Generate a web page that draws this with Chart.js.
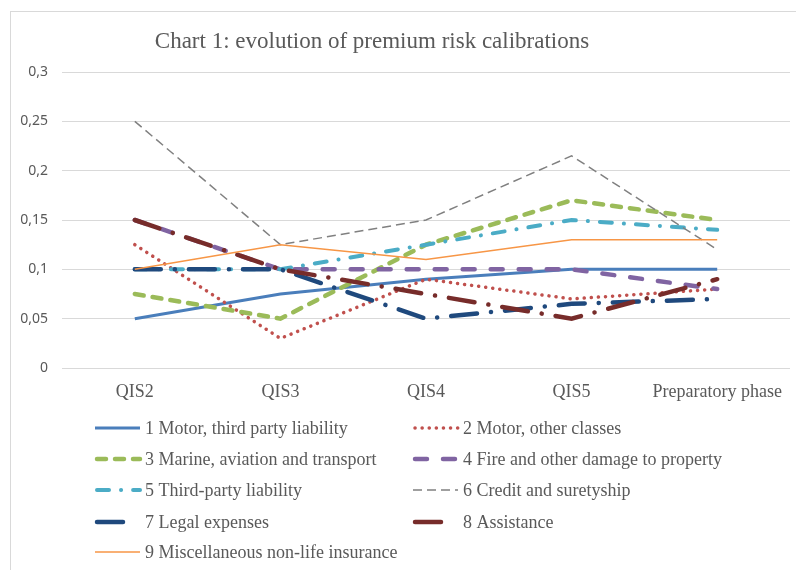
<!DOCTYPE html>
<html>
<head>
<meta charset="utf-8">
<script src="https://cdn.jsdelivr.net/npm/chart.js@4"></script>
<style>
  html, body { margin: 0; padding: 0; background: #fff; }
  #wrap { width: 796px; height: 570px; position: relative; }
</style>
</head>
<body>
<div id="wrap"><canvas id="chart" width="796" height="570"></canvas></div>
<script>
// Chart data
const phases = ['QIS2', 'QIS3', 'QIS4', 'QIS5', 'Preparatory phase'];
const seriesNames = [
    '1 Motor, third party liability',
    '2 Motor, other classes',
    '3 Marine, aviation and transport',
    '4 Fire and other damage to property',
    '5 Third-party liability',
    '6 Credit and suretyship',
    '7 Legal expenses',
    '8 Assistance',
    '9 Miscellaneous non-life insurance'
];
const motorTpl   = [0.05, 0.075, 0.09, 0.10, 0.10];
const motorOther = [0.125, 0.03, 0.09, 0.07, 0.08];
const marine     = [0.075, 0.05, 0.125, 0.17, 0.15];
const fire       = [0.15, 0.10, 0.10, 0.10, 0.08];
const thirdParty = [0.10, 0.10, 0.125, 0.15, 0.14];
const credit     = [0.25, 0.125, 0.15, 0.215, 0.12];
const legal      = [0.10, 0.10, 0.05, 0.065, 0.07];
const assistance = [0.15, 0.10, 0.075, 0.05, 0.09];
const misc       = [0.10, 0.125, 0.11, 0.13, 0.13];
const yTicks = [0, 0.05, 0.1, 0.15, 0.2, 0.25, 0.3];

const allValues = [motorTpl, motorOther, marine, fire, thirdParty, credit, legal, assistance, misc];

// line look per series (Excel style)
const styles = [
    { color: '#4A7EBB', width: 3,   dash: [],              cap: 'butt' },
    { color: '#C0504D', width: 3.5, dash: [0.1, 7],        cap: 'round' },
    { color: '#9BBB59', width: 4.5, dash: [9, 9],          cap: 'round' },
    { color: '#8064A2', width: 4.5, dash: [12, 16],        cap: 'round' },
    { color: '#4BACC6', width: 4,   dash: [12, 12, 0.1, 12], cap: 'round' },
    { color: '#808080', width: 1.5, dash: [9, 5],          cap: 'butt' },
    { color: '#1F497D', width: 4.5, dash: [26, 14, 0.1, 14], cap: 'round' },
    { color: '#772C2A', width: 4.5, dash: [26, 14, 0.1, 14], cap: 'round' },
    { color: '#F79646', width: 1.5, dash: [],              cap: 'butt' }
];

const datasets = allValues.map((vals, i) => ({
    label: seriesNames[i],
    data: vals,
    borderColor: styles[i].color,
    backgroundColor: styles[i].color,
    borderWidth: styles[i].width,
    borderDash: styles[i].dash,
    borderCapStyle: styles[i].cap,
    pointRadius: 0,
    tension: 0,
    fill: false,
    order: allValues.length - i
}));

// draws the frame, title and the two-column legend
const decorations = {
    id: 'decorations',
    beforeDraw(chart) {
        const c = chart.ctx;
        c.save();
        c.strokeStyle = '#D9D9D9';
        c.lineWidth = 1;
        c.strokeRect(10.5, 11.5, 800, 600);
        c.restore();
    },
    afterDraw(chart) {
        const c = chart.ctx;
        c.save();
        c.fillStyle = '#595959';
        c.font = '23px "Liberation Serif"';
        c.textAlign = 'center';
        c.textBaseline = 'middle';
        c.fillText('Chart 1: evolution of premium risk calibrations', 372, 42);

        const colX = [95, 413];
        const rowY = [428, 459, 490, 522, 552];
        c.font = '18px "Liberation Serif"';
        c.textAlign = 'left';
        seriesNames.forEach((name, i) => {
            const x = colX[i % 2];
            const y = rowY[Math.floor(i / 2)];
            const st = styles[i];
            // long dash-dot samples only show their first dash
            const len = (i === 6 || i === 7) ? 33 : 45;
            c.beginPath();
            c.strokeStyle = st.color;
            c.lineWidth = st.width;
            c.lineCap = st.cap;
            c.setLineDash(st.dash);
            c.moveTo(x + (st.cap === 'round' ? 2 : 0), y);
            c.lineTo(x + len, y);
            c.stroke();
            c.setLineDash([]);
            c.fillStyle = '#595959';
            c.fillText(name, x + 50, y + 1);
        });
        c.restore();
    }
};

let ctx = document.getElementById('chart').getContext('2d');
let myChart = new Chart(ctx, {
    type: 'line',
    data: { labels: phases, datasets: datasets },
    options: {
        responsive: false,
        animation: false,
        layout: { padding: { top: 72, right: 6, bottom: 162, left: 0 } },
        plugins: {
            legend: { display: false },
            title: { display: false },
            tooltip: { enabled: false }
        },
        scales: {
            x: {
                offset: true,
                grid: { display: false },
                border: { display: false },
                ticks: {
                    color: '#595959',
                    padding: 5,
                    font: { family: 'Liberation Serif', size: 18 }
                },
                afterFit: s => { s.height = 40; }
            },
            y: {
                min: 0,
                max: 0.3,
                afterBuildTicks: s => { s.ticks = yTicks.map(v => ({ value: v })); },
                grid: { color: '#D9D9D9', lineWidth: 1, drawTicks: false },
                border: { display: false },
                ticks: {
                    color: '#595959',
                    padding: 14,
                    font: { family: 'Noto Sans', size: 14 },
                    callback: v => String(v).replace('.', ',')
                },
                afterFit: s => { s.width = 62; }
            }
        }
    },
    plugins: [decorations]
});
</script>
</body>
</html>
